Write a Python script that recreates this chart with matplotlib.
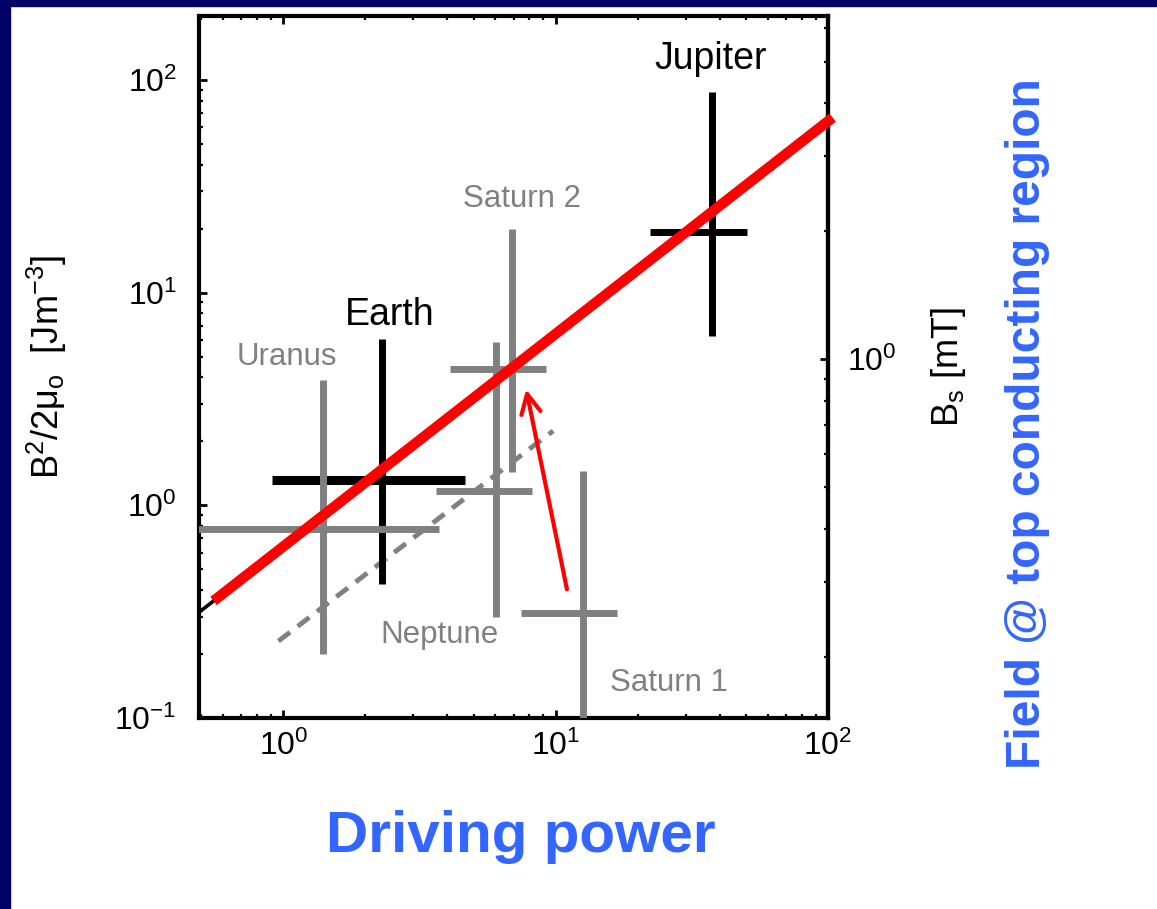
import numpy as np
import matplotlib
matplotlib.use('Agg')
import matplotlib.pyplot as plt
from matplotlib.patches import Rectangle
from matplotlib.ticker import FixedLocator, NullFormatter, LogFormatterMathtext

plt.rcParams['font.family'] = ['Liberation Sans', 'DejaVu Sans']
plt.rcParams['mathtext.fontset'] = 'custom'
plt.rcParams['mathtext.rm'] = 'Liberation Sans'
plt.rcParams['mathtext.it'] = 'Liberation Sans:italic'
plt.rcParams['mathtext.default'] = 'regular'

# ---------------- data ----------------
planets = ['Earth', 'Uranus', 'Neptune', 'Saturn 2', 'Saturn 1', 'Jupiter']
power = [2.31, 1.40, 6.05, 6.90, 12.6, 37.5]
power_lo = [0.911, 0.30, 3.64, 4.10, 7.47, 22.2]
power_hi = [4.66, 3.74, 8.2, 9.23, 16.8, 50.5]
energy = [1.31, 0.771, 1.167, 4.36, 0.313, 19.3]
energy_lo = [0.425, 0.199, 0.297, 1.43, 0.05, 6.23]
energy_hi = [6.03, 3.87, 5.84, 20.0, 1.45, 87.5]
planet_colors = ['black', '#808080', '#808080', '#808080', '#808080', 'black']

fit_x = [0.49, 104.0]
fit_y = [0.314, 66.6]
fit_red_x = [0.554, 104.0]
fit_red_y = [0.355, 66.6]
dash_x = [0.959, 9.79]
dash_y = [0.230, 2.24]
arrow_from = (11.0, 0.403)
arrow_to = (7.79, 3.51)

label_pos = {
    'Jupiter': (37.2, 125.0),
    'Earth': (2.45, 7.82),
    'Saturn 2': (7.54, 27.5),
    'Uranus': (1.03, 4.96),
    'Neptune': (3.74, 0.245),
    'Saturn 1': (26.1, 0.146),
}

bs_major = [1.0]
bs_minor = [0.2, 0.3, 0.4, 0.5, 0.6, 0.7, 0.8, 0.9, 2, 3, 4, 5, 6]
E0 = 4.86  # energy density corresponding to B_s = 1 mT on the right axis

# ---------------- figure ----------------
W, H = 1157, 909
fig = plt.figure(figsize=(W / 100, H / 100), dpi=100)
fig.patch.set_facecolor('white')
navy = '#000066'
fig.patches.append(Rectangle((0, 1 - 6 / H), 1, 6 / H, transform=fig.transFigure,
                             color=navy, zorder=0))
fig.patches.append(Rectangle((0, 0), 10 / W, 1, transform=fig.transFigure,
                             color=navy, zorder=0))

ax = fig.add_axes([199 / W, 1 - 718 / H, (828 - 199) / W, (718 - 16) / H])
ax.set_xscale('log')
ax.set_yscale('log')
ax.set_xlim(0.49, 100)
ax.set_ylim(0.1, 200)

# dashed gray line
ax.plot(dash_x, dash_y, color='#808080', lw=3.5, linestyle=(0, (3, 2)),
        solid_capstyle='butt', dash_capstyle='butt', zorder=2)

# error crosses
for name, x, xl, xh, y, yl, yh, c in zip(planets, power, power_lo, power_hi,
                                         energy, energy_lo, energy_hi, planet_colors):
    lwh = 6.5 if name == 'Earth' else 5
    ax.plot([xl, xh], [y, y], color=c, lw=lwh, solid_capstyle='butt', zorder=3)
    ax.plot([x, x], [yl, yh], color=c, lw=5, solid_capstyle='butt', zorder=3)

# fit lines
ax.plot(fit_x, fit_y, color='black', lw=2.6, zorder=4)
ax.plot(fit_red_x, fit_red_y, color='#ff0000', lw=7.5, solid_capstyle='butt',
        zorder=5, clip_on=False)

# arrow
ax.annotate('', xy=arrow_to, xytext=arrow_from,
            arrowprops=dict(arrowstyle='->,head_length=0.7,head_width=0.35',
                            color='#ff0000', lw=3, shrinkA=0, shrinkB=0,
                            mutation_scale=20), zorder=6)

# planet labels
for name, c in zip(planets, planet_colors):
    fs = 27 if c == 'black' else 22.5
    ax.text(*label_pos[name], name, color=c, fontsize=fs, ha='center', va='center',
            zorder=7)

# spines / ticks
for s in ax.spines.values():
    s.set_linewidth(3)
ax.tick_params(which='both', direction='in', top=True, right=False, labelsize=23)
ax.tick_params(which='major', length=6, width=2)
ax.tick_params(which='minor', length=3, width=1.6)
ax.tick_params(axis='y', pad=16)
ax.tick_params(axis='x', pad=9)
ax.xaxis.set_major_formatter(LogFormatterMathtext())
ax.yaxis.set_major_formatter(LogFormatterMathtext())
ax.xaxis.set_minor_formatter(NullFormatter())
ax.yaxis.set_minor_formatter(NullFormatter())


def fwd(E):
    return np.sqrt(np.clip(E, 1e-12, None) / E0)


def inv(B):
    return E0 * np.asarray(B) ** 2


sec = ax.secondary_yaxis('right', functions=(fwd, inv))
sec.yaxis.set_major_locator(FixedLocator(bs_major))
sec.yaxis.set_minor_locator(FixedLocator(bs_minor))
sec.yaxis.set_major_formatter(LogFormatterMathtext())
sec.yaxis.set_minor_formatter(NullFormatter())
sec.spines['right'].set_linewidth(3)
sec.tick_params(which='both', direction='in', labelsize=23, pad=14)
sec.tick_params(which='major', length=6, width=2)
sec.tick_params(which='minor', length=3, width=1.6)

# axis labels (placed in figure pixels)
fig.text(47 / W, 1 - 367 / H, 'B$^2$/2μ$_o$  [Jm$^{-3}$]', rotation=90,
         ha='center', va='center', fontsize=26)
fig.text(948 / W, 1 - 367 / H, 'B$_s$ [mT]', rotation=90,
         ha='center', va='center', fontsize=26)

blue = '#3366ff'
fig.text(521 / W, 1 - 852 / H, 'Driving power', color=blue, fontsize=42,
         fontweight='bold', ha='center', va='baseline')
fig.text(1027 / W, 1 - 424 / H, 'Field @ top conducting region', color=blue,
         fontsize=34.5, fontweight='bold', rotation=90, ha='center', va='center')

fig.savefig('out.png', dpi=100)
